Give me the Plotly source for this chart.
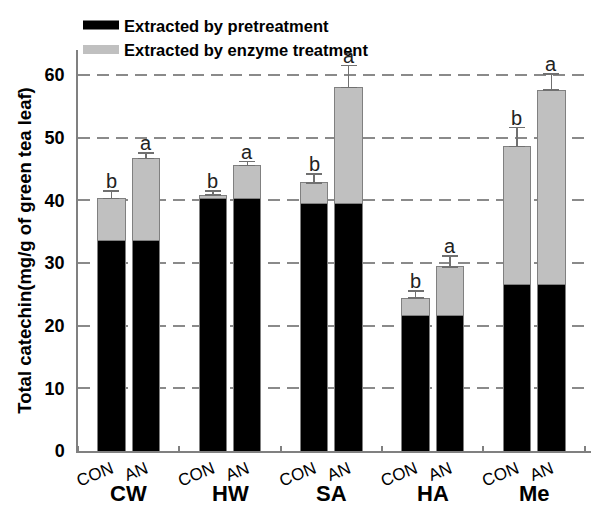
import plotly.graph_objects as go

groups = ["CW", "HW", "SA", "HA", "Me"]
treatments = ["CON", "AN"]
series_names = ["Extracted by pretreatment", "Extracted by enzyme treatment"]
# values per bar, order: CW-CON, CW-AN, HW-CON, HW-AN, ...
pretreatment = [33.6, 33.6, 40.3, 40.3, 39.5, 39.5, 21.6, 21.6, 26.6, 26.6]
total = [40.3, 46.7, 40.85, 45.6, 42.8, 58.0, 24.4, 29.4, 48.6, 57.6]
err_top = [41.5, 47.6, 41.5, 46.2, 44.2, 61.5, 25.5, 31.1, 51.6, 60.2]
letters = ["b", "a", "b", "a", "b", "a", "b", "a", "b", "a"]

offset = 0.17
bar_w = 0.27
xs = []
for gi, g in enumerate(groups):
    for ti, t in enumerate(treatments):
        xs.append(gi + (-offset if ti == 0 else offset))
enzyme = [t - p for t, p in zip(total, pretreatment)]
err_plus = [e - t for e, t in zip(err_top, total)]
tick_text = [t for g in groups for t in treatments]

FONT = "Liberation Sans, Arial"
colors = ["#000000", "#c0c0c0"]
fig = go.Figure()
fig.add_trace(go.Bar(
    x=xs, y=pretreatment, width=bar_w, name=series_names[0], showlegend=False,
    marker=dict(color=colors[0], line=dict(color="#808080", width=1)),
))
fig.add_trace(go.Bar(
    x=xs, y=enzyme, width=bar_w, name=series_names[1], showlegend=False,
    marker=dict(color=colors[1], line=dict(color="#808080", width=1)),
    error_y=dict(type="data", symmetric=False, array=err_plus,
                 arrayminus=[0] * len(err_plus), color="#707070",
                 thickness=1.5, width=8),
))
# legend entries (wide rectangular swatches)
for nm, c in zip(series_names, colors):
    fig.add_trace(go.Scatter(x=[None], y=[None], mode="lines", name="<b>%s</b>" % nm,
                             line=dict(color=c, width=9), showlegend=True))

annotations = []
for x, e, l in zip(xs, err_top, letters):
    annotations.append(dict(x=x, y=e, text=l, showarrow=False, xref="x", yref="y",
                            yanchor="bottom", yshift=-3,
                            font=dict(family=FONT, size=20, color="#222")))
for gi, g in enumerate(groups):
    annotations.append(dict(x=gi, y=0, text="<b>%s</b>" % g, showarrow=False,
                            xref="x", yref="paper", yanchor="middle", yshift=-42,
                            font=dict(family=FONT, size=22, color="#000")))

fig.update_layout(
    width=591, height=499,
    margin=dict(l=70, r=0, t=42, b=56, autoexpand=False),
    barmode="stack",
    plot_bgcolor="white", paper_bgcolor="white",
    showlegend=True,
    legend=dict(x=0.0, y=1.105, xanchor="left", yanchor="top",
                bgcolor="rgba(0,0,0,0)", traceorder="normal",
                font=dict(family=FONT, size=16.5, color="#000"),
                tracegroupgap=0, itemwidth=36),
    annotations=annotations,
    font=dict(family=FONT),
)
fig.update_xaxes(
    range=[-0.5, 4.64], tickmode="array", tickvals=xs, ticktext=tick_text,
    tickangle=-22, ticks="", showgrid=False, zeroline=False, automargin=False,
    showline=True, linecolor="#808080", linewidth=1.5,
    tickfont=dict(family=FONT, size=17, color="#000"),
    minor=dict(tick0=0.5, dtick=1, ticks="inside", ticklen=5, tickcolor="#808080",
               tickwidth=1.5, showgrid=False),
)
fig.update_yaxes(
    range=[0, 64], tickvals=[0, 10, 20, 30, 40, 50, 60],
    ticktext=["<b>%d</b>" % v for v in [0, 10, 20, 30, 40, 50, 60]],
    showgrid=True, gridcolor="#8a8a8a", gridwidth=1.5, griddash="12px,7px",
    zeroline=False, showline=True, linecolor="#808080", linewidth=1.5, automargin=False,
    ticks="", ticklabelstandoff=8,
    tickfont=dict(family=FONT, size=18, color="#000"),
    title=dict(text="<b>Total catechin(mg/g of green tea leaf)</b>",
               font=dict(family=FONT, size=18.5, color="#000"),
               standoff=8),
)
fig.write_html("out.html")
